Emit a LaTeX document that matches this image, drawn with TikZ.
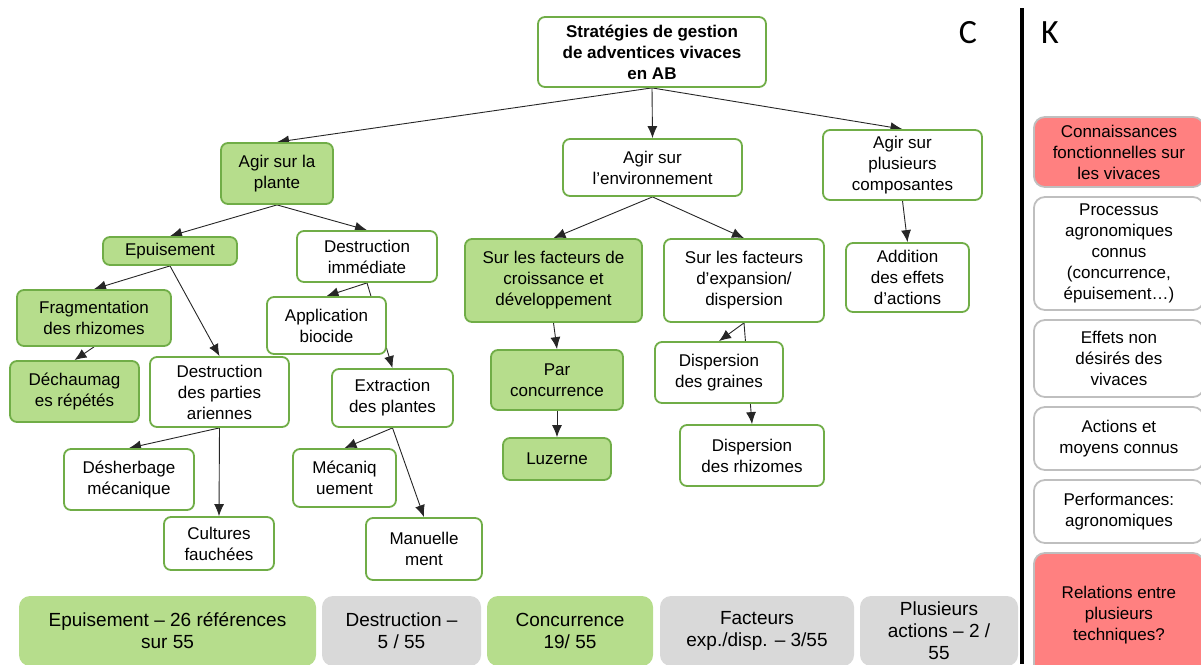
\documentclass[tikz,border=0pt]{standalone}
\usepackage{fontspec}
\setmainfont{Liberation Sans}
\newfontfamily\letterfont{Carlito}
\usepackage{tikz}
\definecolor{leafline}{RGB}{112,173,71}
\definecolor{leaffill}{RGB}{182,221,140}
\definecolor{barfill}{RGB}{217,217,217}
\definecolor{redfill}{RGB}{255,128,128}
\definecolor{kline}{RGB}{191,191,191}
\usetikzlibrary{arrows.meta}
\usetikzlibrary{backgrounds}
\tikzset{
	box/.style={rectangle,rounded corners=7pt,draw=leafline,line width=1.8pt,fill=white,inner sep=0pt,align=center,font=\fontsize{17}{21}\selectfont},
	boxg/.style={box,fill=leaffill},
	rootbox/.style={box,font=\fontsize{17}{21}\selectfont\bfseries},
	kbox/.style={rectangle,rounded corners=11pt,draw=kline,line width=1.8pt,fill=white,inner sep=0pt,align=center,anchor=west,minimum width=170pt,font=\fontsize{17}{21}\selectfont},
	kred/.style={kbox,fill=redfill},
	bar/.style={rectangle,rounded corners=11pt,fill=barfill,inner sep=0pt,align=center,minimum height=70pt,font=\fontsize{19}{22}\selectfont},
	barg/.style={bar,fill=leaffill},
	wh/.style 2 args={minimum width=#1pt,minimum height=#2pt},
	kernel/.style={->,line width=0.9pt,black!85},
	letter/.style={font=\letterfont\fontsize{34}{34}\selectfont},
	>={Latex[length=12pt,width=10pt]},
	}

\begin{document}
\begin{tikzpicture}[x=1pt,y=-1pt]
\useasboundingbox (0,0) rectangle (1201,664);
\clip (0,0) rectangle (1201,664);

\node[letter] (c) at (968,33) {C};
\node[letter] (k) at (1050,33) {K};
\draw[line width=3.5pt] (1022,8) -- (1022,664);

% arbre C
\node[rootbox,wh={228}{70}] (root) at (652,52) {Stratégies de gestion\\de adventices vivaces\\en AB};
\node[boxg,wh={112}{61}] (plante) at (277,173.5) {Agir sur la\\plante};
\node[box,wh={179}{57}] (env) at (652.5,167.5) {Agir sur\\l’environnement};
\node[box,wh={159}{70}] (plus) at (902.5,165) {Agir sur\\plusieurs\\composantes};
\node[boxg,wh={134}{28}] (epuis) at (170,251) {Epuisement};
\node[box,wh={140}{51}] (dimm) at (367,256.5) {Destruction\\immédiate};
\node[boxg,wh={154}{56}] (frag) at (94,318) {Fragmentation\\des rhizomes};
\node[boxg,wh={129}{61}] (dech) at (74.5,391.5) {Déchaumag\\es répétés};
\node[box,wh={139}{70}] (dpart) at (219.5,392) {Destruction\\des parties\\ariennes};
\node[box,wh={119}{57}] (appl) at (326.5,325.5) {Application\\biocide};
\node[box,wh={121}{58}] (extr) at (392.5,398) {Extraction\\des plantes};
\node[box,wh={130}{61}] (desh) at (129,479.5) {Désherbage\\mécanique};
\node[box,wh={110}{53}] (cult) at (219,543.5) {Cultures\\fauchées};
\node[box,wh={103}{58}] (meca) at (344.5,478) {Mécaniq\\uement};
\node[box,wh={116}{62}] (manu) at (424,549) {Manuelle\\ment};
\node[boxg,wh={177}{83}] (croiss) at (553.5,280.5) {Sur les facteurs de\\croissance et\\développement};
\node[box,wh={160}{83}] (expan) at (744,280.5) {Sur les facteurs\\d’expansion/\\dispersion};
\node[box,wh={123}{69}] (addit) at (907.5,277.5) {Addition\\des effets\\d’actions};
\node[boxg,wh={132}{60}] (parc) at (557,380) {Par\\concurrence};
\node[boxg,wh={108}{42}] (luz) at (557,459) {Luzerne};
\node[box,wh={128}{61}] (graines) at (719,372.5) {Dispersion\\des graines};
\node[box,wh={144}{61}] (rhiz) at (752,455.5) {Dispersion\\des rhizomes};

\begin{scope}[on background layer]
\draw[kernel] (root.south) -- (plante.north);
\draw[kernel] (root.south) -- (env.north);
\draw[kernel] (root.south) -- (plus.north);
\draw[kernel] (plante.south) -- (epuis.north);
\draw[kernel] (plante.south) -- (dimm.north);
\draw[kernel] (epuis.south) -- (frag.north);
\draw[kernel] (epuis.south) -- (dpart.north);
\draw[kernel] (frag.south) -- (dech.north);
\draw[kernel] (dimm.south) -- (appl.north);
\draw[kernel] (dimm.south) -- (extr.north);
\draw[kernel] (dpart.south) -- (desh.north);
\draw[kernel] (dpart.south) -- (cult.north);
\draw[kernel] (extr.south) -- (meca.north);
\draw[kernel] (extr.south) -- (manu.north);
\draw[kernel] (env.south) -- (croiss.north);
\draw[kernel] (env.south) -- (expan.north);
\draw[kernel] (croiss.south) -- (parc.north);
\draw[kernel] (parc.south) -- (luz.north);
\draw[kernel] (expan.south) -- (graines.north);
\draw[kernel] (expan.south) -- (rhiz.north);
\draw[kernel] (plus.south) -- (addit.north);
\end{scope}

% connaissances K
\node[kred,minimum height=70pt] (k1) at (1033,152) {Connaissances\\fonctionnelles sur\\les vivaces};
\node[kbox,minimum height=113pt] (k2) at (1033,253.5) {Processus\\agronomiques\\connus\\(concurrence,\\épuisement…)};
\node[kbox,minimum height=77pt] (k3) at (1033,358.5) {Effets non\\désirés des\\vivaces};
\node[kbox,minimum height=63pt] (k4) at (1033,438.5) {Actions et\\moyens connus};
\node[kbox,minimum height=63pt] (k5) at (1033,511.5) {Performances:\\agronomiques};
\node[kred,minimum height=125pt] (k6) at (1033,615.5) {Relations entre\\plusieurs\\techniques?};

% bilan
\node[barg,minimum width=297pt] (b1) at (167.5,631) {Epuisement – 26 références\\sur 55};
\node[bar,minimum width=159pt] (b2) at (401.5,631) {Destruction –\\5 / 55};
\node[barg,minimum width=166pt] (b3) at (570,631) {Concurrence\\19/ 55};
\node[bar,minimum width=194pt] (b4) at (757,631) {Facteurs\\exp./disp. – 3/55};
\node[bar,minimum width=158pt] (b5) at (939,631) {Plusieurs\\actions – 2 /\\55};
\end{tikzpicture}
\end{document}
